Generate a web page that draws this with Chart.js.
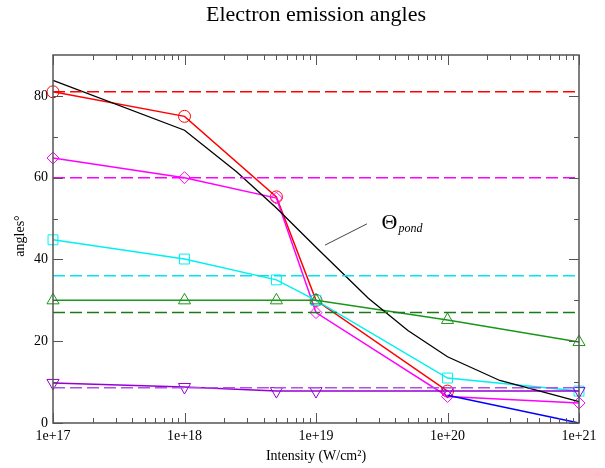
<!DOCTYPE html>
<html><head><meta charset="utf-8">
<script src="https://cdn.jsdelivr.net/npm/chart.js@4.4.1/dist/chart.umd.min.js"></script>
<style>html,body{margin:0;padding:0;background:#fff}</style>
</head><body>
<canvas id="c" width="605" height="468"></canvas>
<script>
// ---- data ----
const titleText = 'Electron emission angles';
const xTitle = 'Intensity (W/cm\u00B2)';
const yTitle = 'angles\u00B0';
const pondLabel = '\u0398';
const pondSub = 'pond';

const intensities = [1e17, 1e18, 5e18, 1e19, 1e20, 1e21];
const redCircles = [81, 75, 55.3, 30, 7.8, null];
const magentaDiamonds = [64.8, 60, 55, 27, 6.5, 4.9];
const cyanSquares = [44.8, 40.1, 35, 30, 11, 7.8];
const greenTriangles = [30, 30, 30, 30, 25.2, 19.8];
const purpleTriangles = [9.8, 8.8, 7.8, 7.8, 7.8, 7.8];

const blueIntensities = [1e20, 1e21];
const blueValues = [6.8, 0];

const pondIntensities = [1e17, 1e18, 2.5e18, 5e18, 1e19, 2.5e19, 5e19, 1e20, 2.5e20, 1e21];
const pondValues = [83.8, 71.6, 61.4, 52.6, 43, 30.5, 22.6, 16.2, 10.4, 5.2];

const refRed = 81, refMagenta = 60, refCyan = 36, refGreen = 27, refPurple = 8.6;

const xMin = 1e17, xMax = 1e21;
const yMin = 0, yMax = 90;
const yMajorTicks = [0, 20, 40, 60, 80];
const yMinorTicks = [10, 30, 50, 70];
const decades = [17, 18, 19, 20, 21];

// leader line & label anchors (data coords)
const leaderFrom = {x: 1.17e19, y: 43.5};
const leaderTo = {x: 2.44e19, y: 48.7};
const labelAt = {x: 3.15e19, y: 47.5};

// ---- helpers ----
function pts(xs, ys) { return xs.map((x, i) => ({x: x, y: ys[i]})).filter(p => p.y !== null); }
function hline(v) { return [{x: xMin, y: v}, {x: xMax, y: v}]; }

const serif = "'Liberation Serif', 'Times New Roman', serif";

function series(label, data, color, style, radius, rotation, width) {
  return {label, data, showLine: true, borderColor: color, borderWidth: width || 1.5,
    pointStyle: style, pointRadius: radius, pointHoverRadius: radius, pointRotation: rotation || 0,
    pointBorderColor: color, pointBackgroundColor: 'rgba(0,0,0,0)', pointBorderWidth: 1,
    fill: false, tension: 0, clip: false};
}
function dashed(label, v, color) {
  return {label, data: hline(v), showLine: true, borderColor: color, borderWidth: 1.5,
    borderDash: [12, 5], pointRadius: 0, pointHoverRadius: 0, fill: false, clip: false};
}

const decor = {
  id: 'decor',
  afterDraw(chart) {
    const ctx = chart.ctx, a = chart.chartArea;
    const xs = chart.scales.x, ys = chart.scales.y;
    ctx.save();
    // frame
    ctx.strokeStyle = '#555'; ctx.lineWidth = 1.5;
    ctx.strokeRect(a.left, a.top, a.right - a.left, a.bottom - a.top);
    // x ticks (log minor)
    ctx.lineWidth = 1;
    ctx.beginPath();
    decades.forEach(d => {
      for (let m = 1; m <= 9; m++) {
        const v = m * Math.pow(10, d);
        if (v > xMax * 1.0001) break;
        const px = Math.round(xs.getPixelForValue(v)) + 0.5;
        const len = m === 1 ? 10 : 5;
        ctx.moveTo(px, a.bottom); ctx.lineTo(px, a.bottom - len);
        ctx.moveTo(px, a.top); ctx.lineTo(px, a.top + len);
      }
    });
    yMajorTicks.forEach(v => {
      const py = Math.round(ys.getPixelForValue(v)) + 0.5;
      ctx.moveTo(a.left, py); ctx.lineTo(a.left + 10, py);
      ctx.moveTo(a.right, py); ctx.lineTo(a.right - 10, py);
    });
    yMinorTicks.forEach(v => {
      const py = Math.round(ys.getPixelForValue(v)) + 0.5;
      ctx.moveTo(a.left, py); ctx.lineTo(a.left + 5, py);
      ctx.moveTo(a.right, py); ctx.lineTo(a.right - 5, py);
    });
    ctx.stroke();

    // title
    ctx.fillStyle = '#000';
    ctx.textAlign = 'center'; ctx.textBaseline = 'alphabetic';
    ctx.font = '22px ' + serif;
    ctx.fillText(titleText, (a.left + a.right) / 2, 21);
    // x title
    ctx.font = '14px ' + serif;
    ctx.fillText(xTitle, (a.left + a.right) / 2, 460);
    // y title
    ctx.save();
    ctx.translate(24, (a.top + a.bottom) / 2 - 3);
    ctx.rotate(-Math.PI / 2);
    ctx.fillText(yTitle, 0, 0);
    ctx.restore();

    // leader line
    ctx.strokeStyle = '#444'; ctx.lineWidth = 1;
    ctx.beginPath();
    ctx.moveTo(xs.getPixelForValue(leaderFrom.x), ys.getPixelForValue(leaderFrom.y));
    ctx.lineTo(xs.getPixelForValue(leaderTo.x), ys.getPixelForValue(leaderTo.y));
    ctx.stroke();
    // Θ pond label
    const lx = xs.getPixelForValue(labelAt.x), ly = ys.getPixelForValue(labelAt.y);
    ctx.textAlign = 'left';
    ctx.font = '22px ' + serif;
    ctx.fillText(pondLabel, lx, ly);
    const w = ctx.measureText(pondLabel).width;
    ctx.font = 'italic 12px ' + serif;
    ctx.fillText(pondSub, lx + w + 1, ly + 3);
    ctx.restore();
  }
};

new Chart(document.getElementById('c'), {
  type: 'scatter',
  data: {
    datasets: [
      dashed('ref red', refRed, '#ff0000'),
      dashed('ref magenta', refMagenta, '#ff00ff'),
      dashed('ref cyan', refCyan, '#00e5ee'),
      dashed('ref green', refGreen, '#1a7a1a'),
      dashed('ref purple', refPurple, '#b050e8'),
      series('pond', pts(pondIntensities, pondValues), '#000000', 'circle', 0, 0, 1.3),
      series('blue', pts(blueIntensities, blueValues), '#0000ff', 'circle', 0, 0),
      series('purple', pts(intensities, purpleTriangles), '#9400d3', 'triangle', 7, 180),
      series('green', pts(intensities, greenTriangles), '#1a961a', 'triangle', 7, 0),
      series('cyan', pts(intensities, cyanSquares), '#00f0f0', 'rect', 7, 0),
      series('magenta', pts(intensities, magentaDiamonds), '#ff00ff', 'rectRot', 6, 0),
      series('red', pts(intensities, redCircles), '#ff0000', 'circle', 6, 0)
    ]
  },
  options: {
    responsive: false,
    animation: false,
    devicePixelRatio: 1,
    layout: {padding: {left: 0, right: 26, top: 55, bottom: 0}},
    plugins: {legend: {display: false}, tooltip: {enabled: false}, title: {display: false}},
    scales: {
      x: {
        type: 'logarithmic', min: xMin, max: xMax,
        grid: {display: false, drawTicks: false}, border: {display: false},
        afterBuildTicks(s) { s.ticks = decades.map(d => ({value: Math.pow(10, d)})); },
        afterFit(s) { s.height = 45; },
        ticks: {autoSkip: false, maxRotation: 0, padding: 5, color: '#000',
          font: {family: serif, size: 14},
          callback(v) { return '1e+' + Math.round(Math.log10(v)); }}
      },
      y: {
        type: 'linear', min: yMin, max: yMax,
        grid: {display: false, drawTicks: false}, border: {display: false},
        afterBuildTicks(s) { s.ticks = yMajorTicks.map(v => ({value: v})); },
        afterFit(s) { s.width = 53; },
        ticks: {padding: 5, color: '#000', font: {family: serif, size: 14}}
      }
    }
  },
  plugins: [decor]
});
</script>
</body></html>
